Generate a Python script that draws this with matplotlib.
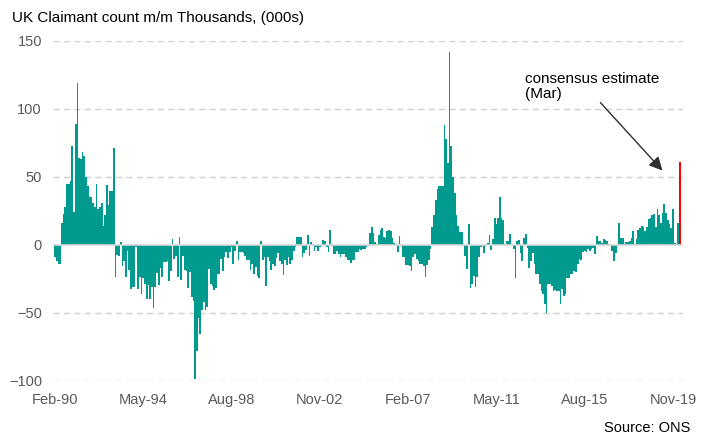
import numpy as np
import pandas as pd
import matplotlib
matplotlib.use("Agg")
import matplotlib.pyplot as plt

plt.rcParams['font.family'] = ['Liberation Sans', 'DejaVu Sans']

# monthly change in UK claimant count, thousands (Feb-90 .. Feb-20)
change_1990s = [
    -9, -12, -14, -14,
    15.7, 22.5, 28, 44.6, 44.6, 47, 72.5, 23.8, 89, 118.6, 63.7, 62.7,
    68, 65.4, 50, 43, 35, 35, 31, 27.5, 44.6, 26, 28, 31, 13.7, 22,
    43.6, 29, 39.7, 39.7, 71,
    -23.5, -7.6, -8, 2, -16, -11.8, -24, -4.4, -18.6,
    -32.6, -31, -31.4, -2, -32.6, -24, -36, -24.5, -29, -40, -29.4, -40,
    -31.4, -46.6, -31.4, -21, -29.4, -17, -23.5, -12.7, -13, -11.8, -27, -19,
    4, -10.8, -8.3, -23.5, 6, -26, -8.3, -18.6, -19, -32, -20, -38.7,
    -41.7, -99, -78, -54,
    -66, -48, -42, -48, -46, -18, -29, -30, -33, -32, -21.5, -21.5,
    -10.5, -19, -9.3, -5.6, -9.8, -5, -2, -14, -4.4, 3, -11, -5,
    -5.6, -6.4, -8, -11, -11, -18.6, -14, -21.5, -16.6, -22.8, -24.8,
]
change_2000s = [
    3, -11, -9.3, -30, -9.3, -11.8, -18.6, -14, -15.4,
    -10, -6, -12, -14, -22, -11, -15, -9, -14, -11, -4.4, -2,
    6, 6, 6, -9, -6, -4, 7, -8, 2, -1, -4.4, -2,
    -4.4, -2, -1, 3.4, 2.7, -2, -5.6, 10.8, -1, -7, -7, -4.4,
    -7, -9, -7, -7, -9, -11, -11, -13.7, -11, -11,
    -5, -5, -3, -4, -3.4, -3, -2, -1, 8.3, 12.7, 8.3, 2,
    0.5, 7, 11, 12, 6, 5, 10, 11, 10, 5, 1, 0.5,
    -5.6, 6.4, -1, -9, -9, -14.7, -14.7, -15.4, -19, -9, -7, -10.5,
    -12, -14, -14, -15.4, -23.5, -14.7, -11, -3,
    13, 22, 33, 41, 43, 43, 43, 88, 78, 60, 142, 72.5,
    50, 38, 22, 14, 9, 9, 0.5, -8, -17.6,
]
change_2010s = [
    15, -32, -29, -23, -31, -24, -9, -2, -1, -6.4, -1, 1.5,
    7, -4, 4, 19.6, 15, 19.6, 35, 20, 18,
    0.5, 2.5, 2.5, 8, 0, -3, -24.5, 3, 3.4, -6.4, -12, 5,
    8, -2.5, -17, -12, -6.4, -14, -21.5, -21.5, -29, -34, -36, -43.6,
    -50.5, -29, -29, -30, -34, -33, -34, -34, -43.6, -32.6, -37.5, -36,
    -24.5, -24.5, -21.5, -21.5, -19, -20, -14, -10.5,
    -11, -5.6, -4.4, -5.6, -3.4, -4.4, -3.4, -2.5, -7, 6.6, 3, 3,
    1, 4, 3.4, 3, 0.5, 0.3, -4.4, -12, -6.4, 0.5, 15.7, 5,
    5, 0.5, 1.7, 1.7, 3,
    5, 10, 0.5, 4, 11, 12, 14, 13, 10, 13, 19, 20,
    21.5, 22.5, 13, 26, 22, 16, 23, 30, 23, 18, 15, 12,
    26, 1, 0.5, 16,
]
consensus_mar20 = 61

tick_labels = ['Feb-90', 'May-94', 'Aug-98', 'Nov-02', 'Feb-07', 'May-11', 'Aug-15', 'Nov-19']
y_ticks = [-100, -50, 0, 50, 100, 150]

values = np.array(change_1990s + change_2000s + change_2010s)
months = pd.date_range('1990-02-01', periods=len(values) + 1, freq='MS')
x = np.arange(len(values))

fig = plt.figure(figsize=(7.1, 4.36), dpi=100)
ax = fig.add_axes([53 / 710, 55.3 / 436, 630 / 710, 340 / 436])

ax.bar(x, values, width=1.0, color='#009a8e', linewidth=0, zorder=2)
ax.bar(len(values), consensus_mar20, width=0.8, color='#ff0000', linewidth=0, zorder=2)

ax.set_xlim(-1.1, 362.8)
ax.set_ylim(-100, 150)
ax.set_yticks(y_ticks)
for v in y_ticks:
    if v == 0:
        ax.axhline(0, color='#d9d9d9', lw=1.2, zorder=3)
    else:
        ax.axhline(v, color='#d0d0d0', lw=1, ls=(0, (4.5, 3)), zorder=1)

labels = [m.strftime('%b-%y') for m in months]
tick_pos = [labels.index(t) for t in tick_labels]
ax.set_xticks(tick_pos)
ax.set_xticklabels(tick_labels)

ax.tick_params(axis='both', length=0, labelsize=10.5, colors='#595959')
ax.tick_params(axis='y', pad=8)
ax.tick_params(axis='x', pad=9)
for s in ax.spines.values():
    s.set_visible(False)

ax.text(271.5, 127, 'consensus estimate\n(Mar)', ha='left', va='top', fontsize=11,
        color='#000000', linespacing=1.1)
ax.annotate('', xy=(352, 53), xytext=(314, 106),
            arrowprops=dict(arrowstyle='-|>', color='#303030', lw=1, mutation_scale=20))

fig.text(12 / 710, 1 - 18 / 436, 'UK Claimant count m/m Thousands, (000s)',
         fontsize=11, va='center', ha='left', color='#000000')
fig.text(690 / 710, 1 - 428 / 436, 'Source: ONS', fontsize=10.5, va='center',
         ha='right', color='#000000')

fig.savefig('out.png', dpi=100)
